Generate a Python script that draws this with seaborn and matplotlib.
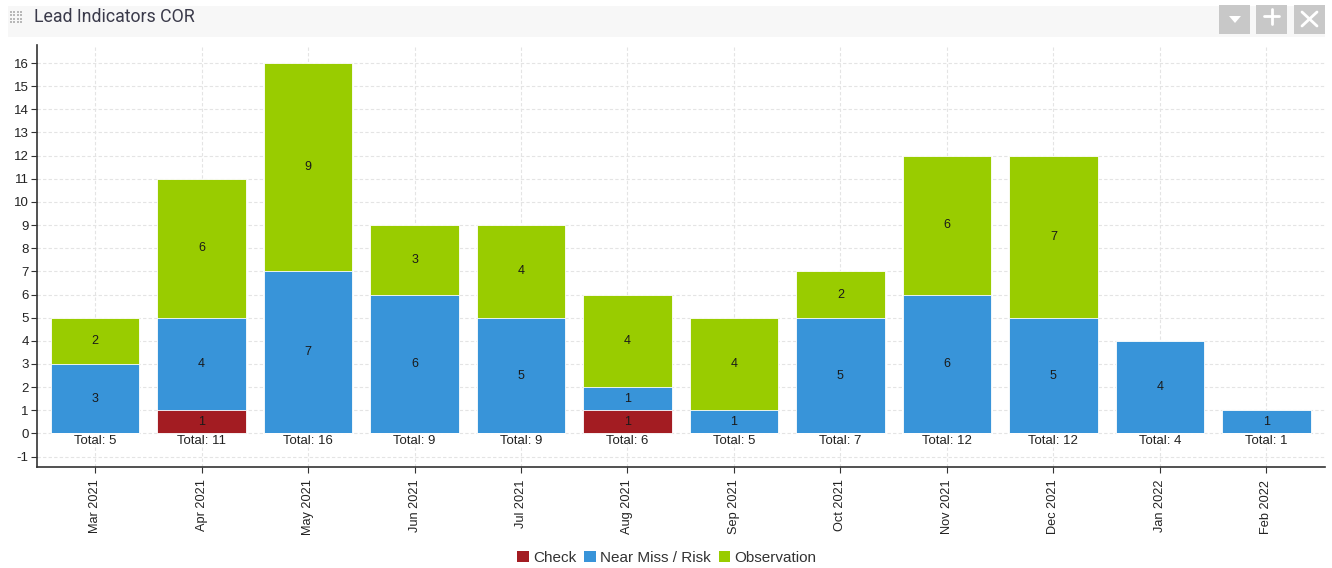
import matplotlib
matplotlib.use("Agg")
import matplotlib.pyplot as plt
from matplotlib.patches import Rectangle, Polygon
from matplotlib.lines import Line2D
import seaborn as sns
import numpy as np
import pandas as pd

months = ["Mar 2021", "Apr 2021", "May 2021", "Jun 2021", "Jul 2021", "Aug 2021",
          "Sep 2021", "Oct 2021", "Nov 2021", "Dec 2021", "Jan 2022", "Feb 2022"]
check = [0, 1, 0, 0, 0, 1, 0, 0, 0, 0, 0, 0]
near_miss = [3, 4, 7, 6, 5, 1, 1, 5, 6, 5, 4, 1]
observation = [2, 6, 9, 3, 4, 4, 4, 2, 6, 7, 0, 0]
series_names = ["Check", "Near Miss / Risk", "Observation"]
colors = ["#a31c22", "#3894d9", "#99cc00"]
yticks = list(range(-1, 17))

sns.set_style("white")
plt.rcParams['font.family'] = ['Liberation Sans', 'DejaVu Sans']

df = pd.DataFrame({"month": months, "check": check, "near": near_miss, "obs": observation})
df["c1"] = df["check"]
df["c2"] = df["check"] + df["near"]
df["c3"] = df["c2"] + df["obs"]

fig = plt.figure(figsize=(13.32, 5.68), dpi=100)
ax = fig.add_axes([0.0278, 0.1778, 0.9669, 0.743])

def fx(px): return px/1332
def fy(py): return 1 - py/568

# header band
fig.patches.append(Rectangle((fx(8), fy(37)), (1325-8)/1332, 31/568,
                             transform=fig.transFigure, facecolor="#f7f7f7", edgecolor="none", zorder=0))
# grip icon
for r in range(4):
    for c in range(4):
        fig.patches.append(Rectangle((fx(10 + c*3.3), fy(13 + r*3.3)), 2/1332, 2/568,
                                     transform=fig.transFigure, facecolor="#b8b8b8", edgecolor="none"))
fig.text(fx(34), fy(17), "Lead Indicators COR", fontsize=12.8, color="#3a3a4a",
         va="center", ha="left", family=["Roboto", "DejaVu Sans"])
# buttons
for bx in [1219, 1256, 1294]:
    fig.patches.append(Rectangle((fx(bx), fy(34)), 31/1332, 29/568,
                                 transform=fig.transFigure, facecolor="#c8c8c8", edgecolor="none"))
fig.patches.append(Polygon([(fx(1229), fy(16)), (fx(1241), fy(16)), (fx(1235), fy(23))],
                           closed=True, transform=fig.transFigure, facecolor="white", edgecolor="none"))
fig.add_artist(Line2D([fx(1264), fx(1279)], [fy(16), fy(16)], transform=fig.transFigure, color="white", lw=2))
fig.add_artist(Line2D([fx(1271.5), fx(1271.5)], [fy(8.5), fy(23.5)], transform=fig.transFigure, color="white", lw=2))
fig.add_artist(Line2D([fx(1302), fx(1317)], [fy(12), fy(26)], transform=fig.transFigure, color="white", lw=2))
fig.add_artist(Line2D([fx(1302), fx(1317)], [fy(26), fy(12)], transform=fig.transFigure, color="white", lw=2))

# stacked bars via cumulative overlay
sns.barplot(data=df, x="month", y="c3", color=colors[2], width=0.83, ax=ax, saturation=1,
            edgecolor="white", linewidth=0.6, zorder=3)
sns.barplot(data=df, x="month", y="c2", color=colors[1], width=0.83, ax=ax, saturation=1,
            edgecolor="white", linewidth=0.6, zorder=3)
sns.barplot(data=df, x="month", y="c1", color=colors[0], width=0.83, ax=ax, saturation=1,
            edgecolor="white", linewidth=0.6, zorder=3)

# segment labels
for i in range(len(months)):
    base = 0
    for v in [check[i], near_miss[i], observation[i]]:
        if v > 0:
            ax.text(i, base + v/2, str(v), ha="center", va="center", fontsize=9, color="#1a1a1a", zorder=5)
        base += v
    tot = check[i] + near_miss[i] + observation[i]
    ax.text(i, -0.06, f"Total: {tot}", ha="center", va="top", fontsize=9.5, color="#222222", zorder=5)

ax.set_xlim(-0.545, 11.55)
ax.set_ylim(-1.45, 16.78)
ax.set_yticks(yticks)
ax.set_yticklabels([str(t) for t in yticks], fontsize=9.5, color="#222222")
ax.set_xticks(range(len(months)))
ax.set_xticklabels(months, rotation=90, fontsize=9.2, color="#222222")
ax.set_xlabel("")
ax.set_ylabel("")
ax.grid(True, color="#e4e4e4", linestyle=(0, (3, 2)), linewidth=0.8, zorder=0)
ax.set_axisbelow(True)
for s in ["top", "right"]:
    ax.spines[s].set_visible(False)
for s in ["left", "bottom"]:
    ax.spines[s].set_color("#333333")
    ax.spines[s].set_linewidth(1.2)
ax.tick_params(axis="y", direction="out", length=4, width=0.8, color="#333333", left=True, pad=2)
ax.tick_params(axis="x", direction="out", length=4, width=0.8, color="#333333", bottom=True, pad=5)

handles = [Rectangle((0, 0), 1, 1, facecolor=c, edgecolor="none") for c in colors]
fig.legend(handles, series_names, loc="center", bbox_to_anchor=(fx(667), fy(558)), ncol=3,
           frameon=False, fontsize=11, handlelength=0.75, handleheight=0.75, handletextpad=0.3,
           columnspacing=0.5, labelcolor="#333333")

fig.savefig("out.png", dpi=100, facecolor="white")
